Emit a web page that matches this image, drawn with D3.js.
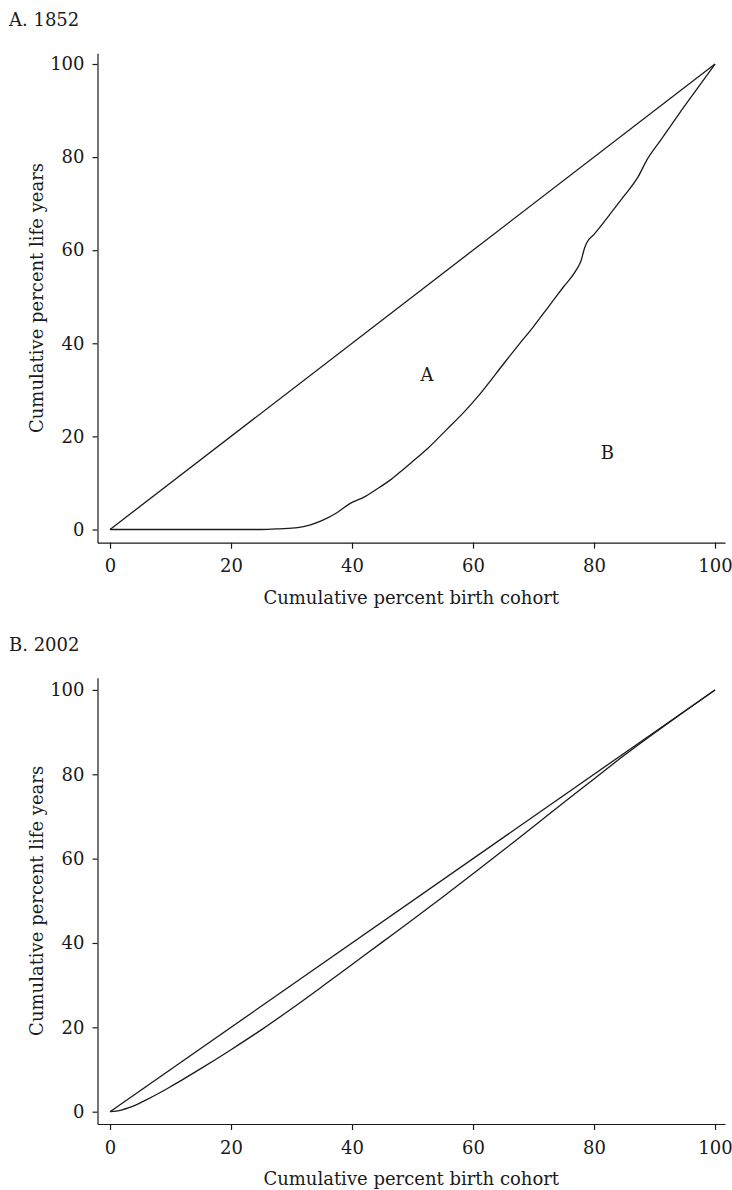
<!DOCTYPE html>
<html>
<head>
<meta charset="utf-8">
<script src="https://cdn.jsdelivr.net/npm/d3@7"></script>
<style>
	body { margin: 0; background: #fff; }
	svg text { font-family: "DejaVu Serif", "Liberation Serif", serif; fill: #1a1a1a; }
	.axis path, .axis line { stroke: #1a1a1a; stroke-width: 1.2; }
	.curve { fill: none; stroke: #1a1a1a; stroke-width: 1.3; }
</style>
</head>
<body>
<svg id="chart" width="732" height="1190"></svg>
<script>
// Lorenz curves of life years, 1852 vs 2002
let tick_values = [0, 20, 40, 60, 80, 100];
let equality = [[0, 0], [100, 100]];

let curve_1852 = [
	[0, 0], [10, 0], [20, 0], [25, 0], [28, 0.15], [31, 0.4], [33, 0.95], [35, 1.9],
	[37.5, 3.6], [39.7, 5.6], [41.9, 6.9], [44, 8.6], [46.3, 10.6], [48, 12.4],
	[50, 14.6], [52.5, 17.4], [55.6, 21.4], [58.5, 25.2], [61.2, 29.2], [65, 35.5],
	[67.5, 39.6], [70, 43.6], [72.5, 47.9], [75, 52.2], [77, 55.6], [77.9, 57.9],
	[78.4, 60.3], [78.8, 61.6], [80, 63.4], [82.5, 67.5], [85, 71.7], [87.3, 75.8],
	[88.7, 79.3], [91, 83.6], [94, 89.2], [97, 94.6], [100, 100]
];

let curve_2002 = [
	[0, 0], [1, 0.15], [2, 0.45], [3, 0.9], [4.5, 1.75], [6, 2.8], [8, 4.3], [10, 5.9],
	[12, 7.6], [15, 10.2], [20, 14.7], [25, 19.4], [30, 24.4], [35, 29.6], [40, 34.9],
	[45, 40.2], [50, 45.5], [55, 50.9], [60, 56.4], [65, 62.0], [70, 67.6], [75, 73.3],
	[80, 78.9], [85, 84.5], [90, 89.8], [95, 94.95], [100, 100]
];

let panel_titles = ['A. 1852', 'B. 2002'];
let area_labels = [{text: 'A', x: 52.4, y: 31.9}, {text: 'B', x: 82.2, y: 15.1}];
let x_title = 'Cumulative percent birth cohort',
	y_title = 'Cumulative percent life years';

let font_size = 18;
let x_domain = [-2.07, 101.65],
	x_range = [97.5, 725];

let panels = [
	{title: panel_titles[0], title_y: 26, y_domain: [-2.84, 102.3], y_range: [542.7, 53.3], curve: curve_1852, labels: area_labels},
	{title: panel_titles[1], title_y: 650.7, y_domain: [-2.92, 102.9], y_range: [1124, 677.7], curve: curve_2002, labels: []}
];

let svg = d3.select('#chart');
let x = d3.scaleLinear().domain(x_domain).range(x_range);

function render_panel(p) {
	let y = d3.scaleLinear().domain(p.y_domain).range(p.y_range);
	let g = svg.append('g');

	g.append('text')
		.attr('x', 9)
		.attr('y', p.title_y)
		.style('font-size', font_size + 'px')
		.text(p.title);

	g.append('g')
		.attr('class', 'axis')
		.attr('transform', `translate(0, ${p.y_range[0]})`)
		.call(d3.axisBottom(x).tickValues(tick_values).tickSize(6).tickSizeOuter(0).tickPadding(11));
	g.append('g')
		.attr('class', 'axis')
		.attr('transform', `translate(${x_range[0]}, 0)`)
		.call(d3.axisLeft(y).tickValues(tick_values).tickSize(5).tickSizeOuter(0).tickPadding(8));
	g.selectAll('.axis').attr('font-family', null).attr('font-size', null);
	g.selectAll('.axis text')
		.style('font-size', font_size + 'px')
		.attr('fill', null);

	g.append('text')
		.attr('x', (x_range[0] + x_range[1]) / 2)
		.attr('y', p.y_range[0] + 61)
		.attr('text-anchor', 'middle')
		.style('font-size', font_size + 'px')
		.text(x_title);

	g.append('text')
		.attr('transform', `translate(43, ${(p.y_range[0] + p.y_range[1]) / 2}) rotate(-90)`)
		.attr('text-anchor', 'middle')
		.style('font-size', font_size + 'px')
		.text(y_title);

	let line = d3.line()
		.x(d => x(d[0]))
		.y(d => y(d[1]))
		.curve(d3.curveMonotoneX);

	g.append('path')
		.attr('class', 'curve')
		.attr('d', line(equality));
	g.append('path')
		.attr('class', 'curve')
		.attr('d', line(p.curve));

	g.selectAll('.area_label')
		.data(p.labels)
		.enter()
		.append('text')
		.attr('class', 'area_label')
		.attr('x', d => x(d.x))
		.attr('y', d => y(d.y))
		.attr('text-anchor', 'middle')
		.style('font-size', font_size + 'px')
		.text(d => d.text);
}

panels.forEach(render_panel);
</script>
</body>
</html>
